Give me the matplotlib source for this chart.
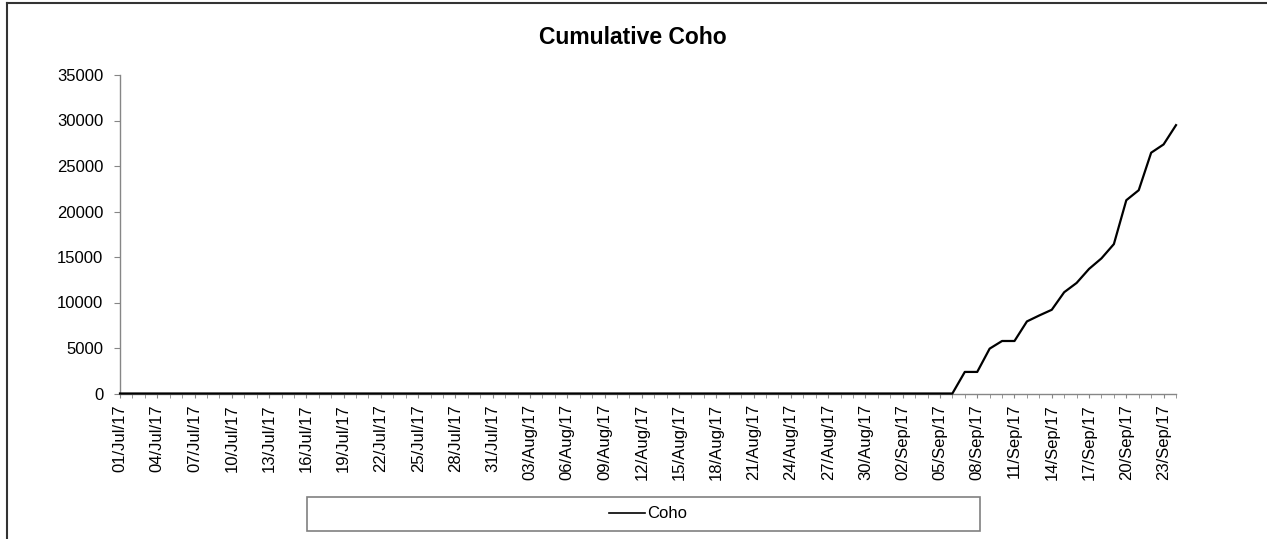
import matplotlib
matplotlib.use("Agg")
import matplotlib.pyplot as plt
import matplotlib.dates as mdates
import pandas as pd
from matplotlib.lines import Line2D
from matplotlib.patches import Rectangle

plt.rcParams['font.family'] = ['Liberation Sans', 'DejaVu Sans']

# daily dates of the season, 01 Jul to 24 Sep 2017
dates = pd.date_range('2017-07-01', '2017-09-24', freq='D')
# running total of coho, nothing counted before 07 Sep
coho = [0] * 68 + [2370, 2370, 4930, 5770, 5770, 7920, 8580, 9200, 11130,
                   12150, 13690, 14850, 16420, 21240, 22340, 26460, 27370, 29490]
y_ticks = [0, 5000, 10000, 15000, 20000, 25000, 30000, 35000]

W, H = 1267, 539
fig = plt.figure(figsize=(W / 100, H / 100), dpi=100)
ax = fig.add_axes([120 / W, 1 - 393.5 / H, (1176 - 120) / W, (393.5 - 75) / H])

ax.plot(dates, coho, color='black', lw=1.6, zorder=4, clip_on=False)
ax.set_xlim(dates[0], dates[-1])
ax.set_ylim(0, 35000)
ax.set_yticks(y_ticks)
ax.set_xticks(dates[::3])
ax.set_xticks(dates, minor=True)
ax.xaxis.set_major_formatter(mdates.DateFormatter('%d/%b/%y'))

for s in ['top', 'right']:
    ax.spines[s].set_visible(False)
for s in ['left', 'bottom']:
    ax.spines[s].set_color('#868686')
    ax.spines[s].set_linewidth(1.0)

ax.tick_params(axis='x', which='both', length=3, direction='out', color='#868686',
               labelsize=12, labelrotation=90, pad=4.5)
ax.tick_params(axis='y', length=4, direction='out', color='#868686',
               labelsize=12, pad=8)

fig.text(633 / W, 1 - 37 / H, 'Cumulative Coho', ha='center', va='center',
         fontsize=16.5, weight='bold')

# legend box below the axis
fig.add_artist(Rectangle((307 / W, 1 - 531 / H), 673 / W, 34 / H,
                         transform=fig.transFigure, facecolor='white',
                         edgecolor='#808080', lw=1.2))
fig.legend(handles=[Line2D([], [], color='black', lw=1.2)], labels=['Coho'],
           loc='center', bbox_to_anchor=(648 / W, 1 - 514 / H),
           bbox_transform=fig.transFigure, frameon=False, fontsize=12,
           handlelength=2.2, handletextpad=0.1)

# chart border (left and top edges)
fig.add_artist(Line2D([7 / W, 7 / W], [0, 1 - 3 / H], color='#333333', lw=1.5,
                      transform=fig.transFigure))
fig.add_artist(Line2D([7 / W, 1], [1 - 3 / H, 1 - 3 / H], color='#333333', lw=1.5,
                      transform=fig.transFigure))

fig.savefig('out.png', dpi=100)
